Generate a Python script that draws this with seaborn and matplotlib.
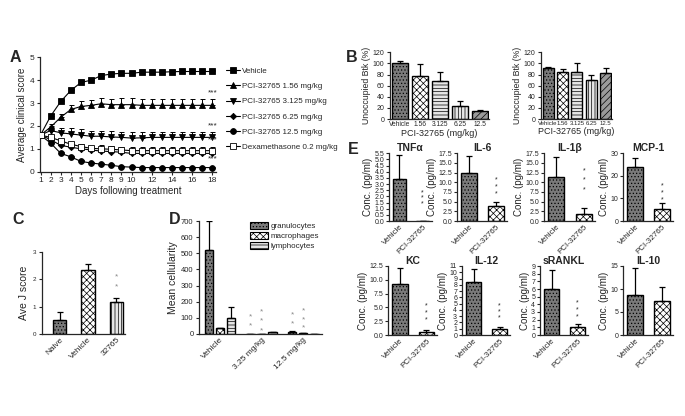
import numpy as np
import pandas as pd
import matplotlib
matplotlib.use("Agg")
import matplotlib.pyplot as plt
from matplotlib.patches import Patch
from matplotlib.lines import Line2D
import seaborn as sns

# ---------------- data ----------------
days = list(range(1, 19))
a_labels = ["Vehicle", "PCI-32765 1.56 mg/kg", "PCI-32765 3.125 mg/kg",
            "PCI-32765 6.25 mg/kg", "PCI-32765 12.5 mg/kg", "Dexamethasone 0.2 mg/kg"]
a_vehicle = [1.6, 2.43, 3.07, 3.55, 3.9, 4.0, 4.2, 4.27, 4.3, 4.3, 4.35, 4.35, 4.35, 4.37, 4.38, 4.38, 4.38, 4.38]
a_vehicle_err = [0.0, 0.08, 0.08, 0.08, 0.1, 0.1, 0.1, 0.08, 0.08, 0.08, 0.06, 0.06, 0.06, 0.06, 0.06, 0.06, 0.06, 0.06]
a_156 = [1.6, 1.95, 2.38, 2.72, 2.85, 2.9, 2.97, 2.93, 2.93, 2.93, 2.9, 2.9, 2.9, 2.9, 2.9, 2.9, 2.9, 2.9]
a_156_err = [0.0, 0.15, 0.15, 0.2, 0.22, 0.25, 0.25, 0.25, 0.27, 0.27, 0.27, 0.27, 0.27, 0.27, 0.27, 0.27, 0.27, 0.27]
a_3125 = [1.6, 1.8, 1.7, 1.65, 1.6, 1.55, 1.55, 1.52, 1.5, 1.47, 1.48, 1.5, 1.5, 1.5, 1.5, 1.5, 1.5, 1.5]
a_3125_err = [0.0, 0.2, 0.2, 0.25, 0.27, 0.25, 0.25, 0.25, 0.25, 0.27, 0.27, 0.25, 0.25, 0.25, 0.25, 0.25, 0.25, 0.25]
a_625 = [1.6, 1.4, 1.15, 1.07, 1.0, 0.95, 0.9, 0.88, 0.85, 0.8, 0.8, 0.8, 0.8, 0.8, 0.8, 0.8, 0.8, 0.8]
a_625_err = [0.0, 0.12, 0.12, 0.12, 0.12, 0.15, 0.15, 0.15, 0.15, 0.15, 0.15, 0.15, 0.15, 0.15, 0.15, 0.15, 0.15, 0.15]
a_125 = [1.6, 1.25, 0.8, 0.65, 0.45, 0.38, 0.33, 0.28, 0.22, 0.2, 0.18, 0.18, 0.18, 0.18, 0.18, 0.18, 0.18, 0.18]
a_125_err = [0.0, 0.05, 0.05, 0.05, 0.05, 0.05, 0.04, 0.04, 0.03, 0.03, 0.03, 0.03, 0.03, 0.03, 0.03, 0.03, 0.03, 0.03]
a_dex = [1.6, 1.5, 1.35, 1.2, 1.1, 1.02, 1.0, 0.98, 0.95, 0.92, 0.92, 0.92, 0.92, 0.92, 0.92, 0.92, 0.92, 0.92]
a_dex_err = [0.0, 0.1, 0.1, 0.1, 0.12, 0.12, 0.15, 0.15, 0.15, 0.15, 0.15, 0.15, 0.15, 0.15, 0.15, 0.15, 0.15, 0.15]
a_xticks = [1, 2, 3, 4, 5, 6, 7, 8, 9, 10, 12, 14, 16, 18]
a_stars_y = [3.3, 1.85, 1.22, 0.4]

b_doses = ["Vehicle", "1.56", "3.125", "6.25", "12.5"]
b1_vals = [100, 77, 68, 24, 14]
b1_err = [5, 22, 16, 8, 3]
b2_vals = [92, 85, 85, 70, 82]
b2_err = [2, 5, 15, 9, 9]

c_groups = ["Naive", "Vehicle", "32765"]
c_vals = [0.5, 2.35, 1.18]
c_err = [0.3, 0.2, 0.15]

d_groups = ["Vehicle", "3.25 mg/kg", "12.5 mg/kg"]
d_cells = ["granulocytes", "macrophages", "lymphocytes"]
d_gran = [520, 2, 12]
d_gran_err = [180, 0, 4]
d_macro = [35, 3, 5]
d_macro_err = [5, 0, 0]
d_lymph = [100, 10, 2]
d_lymph_err = [65, 3, 0]

e_names = ["TNF\u03b1", "IL-6", "IL-1\u03b2", "MCP-1", "KC", "IL-12", "sRANKL", "IL-10"]
e_groups = ["Vehicle", "PCI-32765"]
e_vehicle = [3.45, 12.3, 11.5, 24.0, 9.3, 8.5, 6.0, 8.8]
e_vehicle_err = [1.95, 4.4, 5.0, 4.0, 2.9, 2.0, 2.5, 5.8]
e_pci = [0.0, 3.8, 1.9, 5.3, 0.5, 1.0, 1.1, 7.4]
e_pci_err = [0.0, 1.2, 1.4, 2.8, 0.4, 0.2, 0.3, 3.1]
e_ymax = [5.5, 17.5, 17.5, 30, 12.5, 11, 9, 15]
e_ystep = [0.5, 2.5, 2.5, 10, 2.5, 1, 1, 5]
e_star_pos = [[2.3, 1.85, 1.4], [10.5, 8.7, 6.9], [13.0, 10.5, 8.0], [15.5, 12.5, 9.5],
              [5.3, 4.0, 2.7], [4.7, 3.7, 2.7], [4.2, 3.3, 2.4], []]

# ---------------- style ----------------
sns.set_style("ticks")
plt.rcParams["font.family"] = ["Liberation Sans", "DejaVu Sans"]
plt.rcParams["hatch.linewidth"] = 0.5
plt.rcParams["axes.linewidth"] = 0.9
plt.rcParams["xtick.major.width"] = 0.8
plt.rcParams["ytick.major.width"] = 0.8
plt.rcParams["xtick.major.size"] = 2.5
plt.rcParams["ytick.major.size"] = 2.5
plt.rcParams["xtick.major.pad"] = 1.5
plt.rcParams["ytick.major.pad"] = 1.5

W, H = 685, 416
fig = plt.figure(figsize=(W / 100, H / 100), dpi=100)
fig.patch.set_facecolor("white")


def ax_px(x0, y0, x1, y1):
    return fig.add_axes([x0 / W, 1 - y1 / H, (x1 - x0) / W, (y1 - y0) / H])


def clean(ax):
    sns.despine(ax=ax)


DARK = "#7a7a7a"
HATCH_STYLE = {
    "dots": dict(facecolor=DARK, hatch="....."),
    "check": dict(facecolor="white", hatch="xxxxx"),
    "hline": dict(facecolor="#e6e6e6", hatch="-----"),
    "vline": dict(facecolor="#e6e6e6", hatch="|||||"),
    "diag": dict(facecolor="#9a9a9a", hatch="/////"),
}


def style_bars(patches, kinds):
    for p, k in zip(patches, kinds):
        st = HATCH_STYLE[k]
        p.set_facecolor(st["facecolor"])
        p.set_hatch(st["hatch"])
        p.set_edgecolor("black")
        p.set_linewidth(1.0)


def up_err(ax, xs, ys, errs, cap=2.0, lw=0.9, color="black"):
    ax.errorbar(xs, ys, yerr=[np.zeros(len(errs)), errs], fmt="none",
                ecolor=color, elinewidth=lw, capsize=cap, capthick=lw, zorder=1)


# ---------------- Panel A ----------------
axA = ax_px(40, 57.3, 216, 171.7)
series = [(a_vehicle, a_vehicle_err, "s", "black"),
          (a_156, a_156_err, "^", "black"),
          (a_3125, a_3125_err, "v", "black"),
          (a_625, a_625_err, "D", "black"),
          (a_125, a_125_err, "o", "black"),
          (a_dex, a_dex_err, "s", "white")]
handles = []
for (vals, err, mk, mfc), lab in zip(series, a_labels):
    up_err(axA, days, vals, err, cap=1.8, lw=0.7)
    ms = 3.2 if mk == "D" else 4.2
    sns.lineplot(x=days, y=vals, ax=axA, color="black", linewidth=0.8, marker=mk,
                 markersize=ms, markerfacecolor=mfc, markeredgecolor="black",
                 markeredgewidth=0.6, legend=False, zorder=3)
    handles.append(Line2D([], [], color="black", lw=0.8, marker=mk, markersize=ms,
                          markerfacecolor=mfc, markeredgecolor="black", markeredgewidth=0.6))
axA.set_xlim(0.95, 18.35)
axA.set_ylim(0, 5)
axA.set_xticks(a_xticks)
axA.set_yticks(range(0, 6))
axA.tick_params(labelsize=6)
axA.set_xlabel("Days following treatment", fontsize=7, labelpad=1)
axA.set_ylabel("Average clinical score", fontsize=7, labelpad=2)
for sy in a_stars_y:
    axA.text(18, sy, "***", fontsize=6, ha="center", va="bottom")
clean(axA)
fig.legend(handles, a_labels, loc="upper left", bbox_to_anchor=(223 / W, 1 - 64 / H),
           frameon=False, fontsize=5.8, handlelength=1.7, handletextpad=0.3,
           labelspacing=0.95, borderaxespad=0)

# ---------------- Panel B ----------------
for (x0, x1), vals, err, fs in [((390, 489), b1_vals, b1_err, 4.8), ((541, 612), b2_vals, b2_err, 4.3)]:
    ax = ax_px(x0, 52.3, x1, 119)
    sns.barplot(x=b_doses, y=vals, ax=ax, errorbar=None, width=0.78, color="white")
    style_bars(ax.patches, ["dots", "check", "hline", "vline", "diag"])
    up_err(ax, range(len(vals)), vals, err, cap=2.2)
    ax.set_ylim(0, 120)
    ax.set_xlim(-0.5, 4.45)
    ax.set_yticks(range(0, 121, 20))
    ax.tick_params(axis="y", labelsize=5.0)
    ax.tick_params(axis="x", labelsize=fs, length=0)
    ax.set_xlabel("PCI-32765 (mg/kg)", fontsize=6.5, labelpad=1)
    ax.set_ylabel("Unoccupied Btk (%)", fontsize=6.3, labelpad=1)
    clean(ax)

# ---------------- Panel C ----------------
axC = ax_px(42, 251.7, 125, 334)
sns.barplot(x=c_groups, y=c_vals, ax=axC, errorbar=None, width=0.47, color="white")
style_bars(axC.patches, ["dots", "check", "vline"])
up_err(axC, range(3), c_vals, c_err, cap=2.5)
axC.set_ylim(0, 3)
axC.set_xlim(-0.62, 2.3)
axC.set_yticks([0, 1, 2, 3])
axC.tick_params(axis="y", labelsize=4.5)
axC.tick_params(axis="x", labelsize=6, length=0)
plt.setp(axC.get_xticklabels(), rotation=45, ha="right", rotation_mode="anchor")
axC.set_ylabel("Ave J score", fontsize=7.5, labelpad=3)
axC.set_xlabel("")
for sy in [2.08, 1.72]:
    axC.text(2, sy, "*", fontsize=6, ha="center", va="center", color="#888888")
clean(axC)

# ---------------- Panel D ----------------
axD = ax_px(199, 221, 322, 334)
dfD = pd.DataFrame({
    "group": d_groups * 3,
    "cell": [c for c in d_cells for _ in d_groups],
    "value": d_gran + d_macro + d_lymph,
})
sns.barplot(data=dfD, x="group", y="value", hue="cell", ax=axD, errorbar=None,
            gap=0.25, legend=False, palette=["white"] * 3)
kinds = ["dots"] * 3 + ["check"] * 3 + ["hline"] * 3
style_bars(axD.patches[:9], kinds)
errsD = d_gran_err + d_macro_err + d_lymph_err
xsD = [p.get_x() + p.get_width() / 2 for p in axD.patches[:9]]
up_err(axD, xsD, dfD["value"].tolist(), errsD, cap=2.5)
axD.set_ylim(0, 700)
axD.set_xlim(-0.5, 2.45)
axD.set_yticks(range(0, 701, 100))
axD.tick_params(axis="y", labelsize=5.5)
axD.tick_params(axis="x", labelsize=6, length=0)
plt.setp(axD.get_xticklabels(), rotation=45, ha="right", rotation_mode="anchor")
axD.set_xlabel("")
axD.set_ylabel("Mean cellularity", fontsize=7.5, labelpad=2)
for gi, star_sets in [(1, ([105, 50], [140, 80, 20])), (2, ([120, 65], [145, 90, 35]))]:
    for hi, ys in enumerate(star_sets):
        for sy in ys:
            axD.text(xsD[hi * 3 + gi], sy, "*", fontsize=6, ha="center", va="center", color="#888888")
legD = [Patch(facecolor=HATCH_STYLE[k]["facecolor"], hatch=HATCH_STYLE[k]["hatch"],
              edgecolor="black", linewidth=0.8) for k in ["dots", "check", "hline"]]
axD.legend(legD, d_cells, loc="upper right", bbox_to_anchor=(1.0, 1.02), frameon=False,
           fontsize=5.8, handlelength=2.2, handleheight=0.9, handletextpad=0.3,
           labelspacing=0.25, borderaxespad=0)
clean(axD)

# ---------------- Panel E ----------------
e_boxes = [(389, 153.3, 432, 221), (457, 153.3, 507, 221), (544, 153.3, 595, 221), (623, 153.3, 673, 221),
           (388, 266, 437, 335), (462, 266, 510, 335), (540, 266, 588, 335), (623, 266, 673, 335)]
for i, box in enumerate(e_boxes):
    ax = ax_px(*box)
    vals = [e_vehicle[i], e_pci[i]]
    sns.barplot(x=e_groups, y=vals, ax=ax, errorbar=None, width=0.58, color="white")
    style_bars(ax.patches, ["dots", "check"])
    up_err(ax, [0, 1], vals, [e_vehicle_err[i], e_pci_err[i]], cap=2.2, lw=0.9)
    ax.set_ylim(0, e_ymax[i])
    ax.set_xlim(-0.45, 1.4)
    ticks = np.arange(0, e_ymax[i] + 1e-9, e_ystep[i])
    ax.set_yticks(ticks)
    if e_ystep[i] in (2.5, 0.5):
        ax.set_yticklabels([f"{v:.1f}" for v in ticks])
    ax.tick_params(axis="y", labelsize=5.0, length=2)
    ax.tick_params(axis="x", labelsize=5.8, length=0)
    plt.setp(ax.get_xticklabels(), rotation=45, ha="right", rotation_mode="anchor")
    ax.set_ylabel("Conc. (pg/ml)", fontsize=7, labelpad=1)
    ax.set_xlabel("")
    ax.set_title(e_names[i], fontsize=7.5, fontweight="bold", pad=1)
    for sy in e_star_pos[i]:
        ax.text(1, sy, "*", fontsize=5, ha="center", va="center")
    clean(ax)

# ---------------- panel letters ----------------
for lab, x, y in [("A", 10, 57), ("B", 346, 57), ("C", 12, 220), ("D", 169, 220), ("E", 348, 150)]:
    fig.text(x / W, 1 - y / H, lab, fontsize=11.5, fontweight="bold", va="center", ha="left")

fig.savefig("out.png", dpi=100)
